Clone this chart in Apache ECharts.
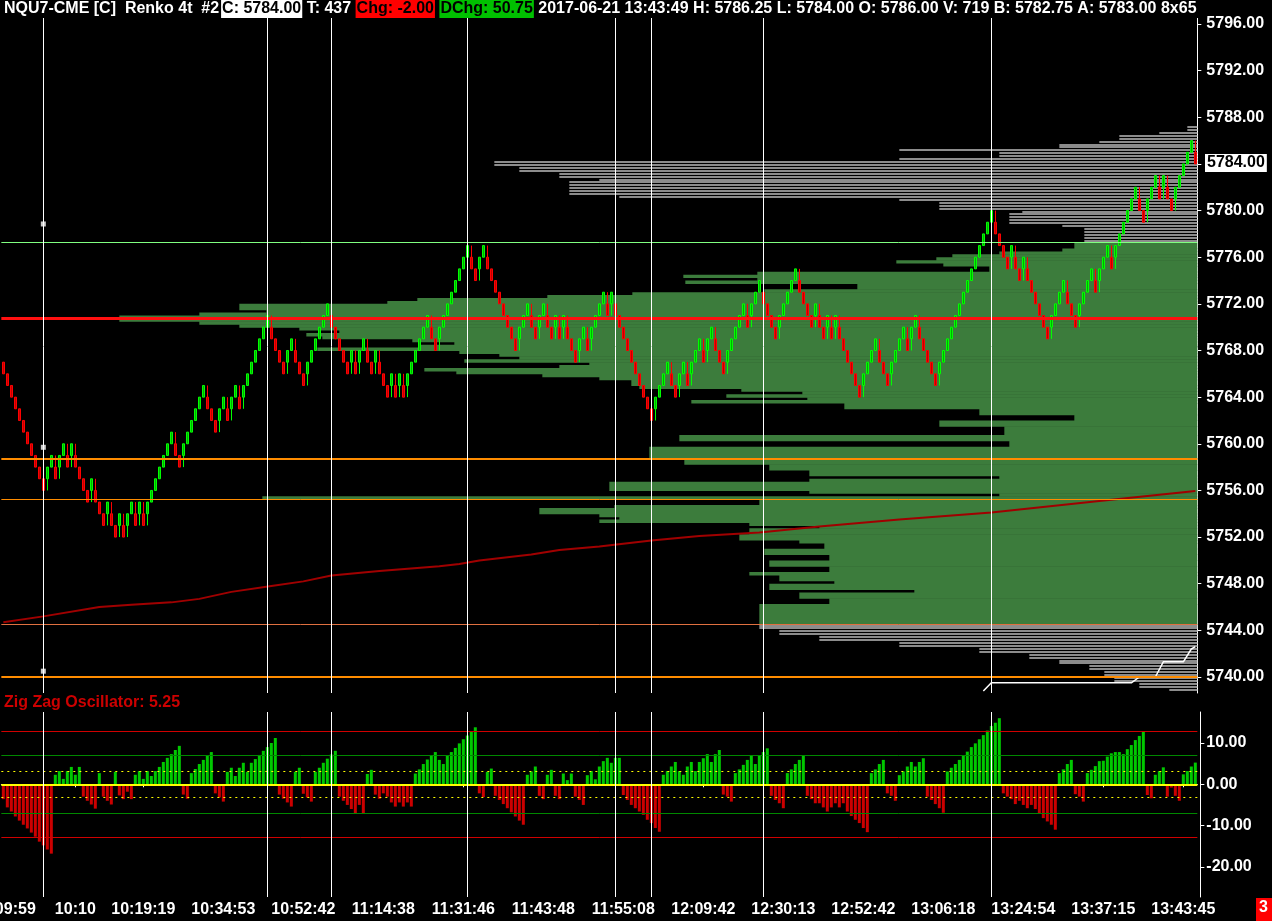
<!DOCTYPE html>
<html><head><meta charset="utf-8">
<script src="https://cdn.jsdelivr.net/npm/echarts@6/dist/echarts.min.js"></script>
<style>html,body{margin:0;padding:0;background:#000;}#c{width:1272px;height:921px;}</style>
</head><body><div id="c"></div>
<script>
// ---------- DATA ----------
// Renko bricks (4 ticks = 1.00 pt): lower edge of each brick, in order
const brickLow = [
5766,5765,5764,5763,5762,5761,5760,5759,5758,5757,5756,
5757,5758,5757,5758,5759,5758,5759,5758,5757,
5756,5755,5756,5755,5754,5753,5754,5753,5752,5753,
5752,5753,5754,5753,5754,5753,5754,5755,5756,5757,
5758,5759,5760,5759,5758,5759,5760,5761,5762,5763,
5764,5763,5762,5761,5762,5763,5762,5763,5764,5763,
5764,5765,5766,5767,5768,5769,5770,5769,5768,5767,
5766,5767,5768,5767,5766,5765,5766,5767,5768,5769,
5770,5771,5770,5769,5768,5767,5766,5767,5766,5767,
5768,5767,5766,5767,5766,5765,5764,5765,5764,5765,
5764,5765,5766,5767,5768,5769,5770,5769,5768,5769,
5770,5771,5772,5773,5774,5775,5776,5775,5774,5775,
5776,5775,5774,5773,5772,5771,5770,5769,5768,5769,
5770,5771,5770,5769,5770,5771,5770,5769,5770,5769,
5770,5769,5768,5767,5768,5769,5768,5769,5770,5771,
5772,5771,5772,5771,5770,5769,5768,5767,5766,5765,
5764,5763,5762,5763,5764,5765,5766,5765,5764,5765,
5766,5765,5766,5767,5768,5767,5768,5769,5768,5767,
5766,5767,5768,5769,5770,5771,5770,5771,5772,5773,
5772,5771,5770,5769,5770,5771,5772,5773,5774,5773,
5772,5771,5770,5771,5770,5769,5770,5769,5770,5769,
5768,5767,5766,5765,5764,5765,5766,5767,5768,5767,
5766,5765,5766,5767,5768,5769,5768,5769,5770,5769,
5768,5767,5766,5765,5766,5767,5768,5769,5770,5771,
5772,5773,5774,5775,5776,5777,5778,5779,5778,5777,
5776,5775,5776,5775,5774,5775,5774,5773,5772,5771,
5770,5769,5770,5771,5772,5773,5772,5771,5770,5771,
5772,5773,5774,5773,5774,5775,5776,5775,5776,5777,
5778,5779,5780,5781,5780,5779,5780,5781,5782,5781,
5782,5781,5780,5781,5782,5783,5784,5785,5784
];
// Zig Zag Oscillator value per brick
const oscValues = [
-3.6,-5.6,-6.6,-7.8,-8.8,-9.8,-10.7,-11.7,-12.7,-13.9,-14.8,-15.8,-16.8,
2.3,3.2,1.3,3.2,4.2,2.3,4.2,
-3.0,-4.0,-4.9,-5.9,
2.7,
-3.0,-4.0,-4.9,
3.0,
-2.7,-3.6,-1.8,-3.6,
2.3,3.2,1.3,3.2,2.0,3.2,4.2,5.4,6.4,7.3,8.3,9.3,
-2.5,-3.5,
2.7,3.7,4.9,5.9,7.0,7.8,
-2.2,-3.2,-4.2,
3.0,4.0,2.0,4.0,5.2,3.0,5.2,6.1,7.1,8.1,9.0,10.0,11.2,
-2.5,-3.5,-4.4,-5.4,
3.0,4.0,
-2.3,-3.2,-4.2,
3.0,4.0,5.2,6.2,7.2,8.1,
-3.0,-4.0,-5.0,-6.0,-7.0,-5.0,-7.0,
2.5,3.5,
-2.5,-3.5,-2.2,-3.0,-4.4,-5.4,-4.4,-5.4,-4.4,-5.4,
2.6,3.6,4.9,6.0,7.0,7.8,5.9,4.9,7.0,7.8,8.8,9.9,10.9,11.8,12.8,13.8,
-2.2,-3.1,
3.0,3.8,
-2.8,-3.8,-4.8,-5.8,-6.8,-7.8,-8.8,-9.8,
2.3,3.1,4.3,
-2.8,-3.6,
2.3,3.5,
-2.8,-3.6,
2.6,1.0,2.6,
-3.0,-3.8,-5.0,
2.2,3.2,1.2,4.3,5.6,6.4,5.2,6.4,6.4,
-2.6,-3.8,-5.0,-5.8,-6.6,-7.4,-8.6,-9.4,-10.6,-11.5,
2.3,3.2,4.3,5.4,3.2,2.3,4.3,5.4,3.2,5.4,6.3,7.3,5.4,7.3,8.3,
-2.5,-3.0,-4.2,
2.7,3.6,4.7,5.9,7.0,4.9,7.0,7.8,8.7,
-2.8,-3.8,-4.6,-5.8,
2.7,3.6,4.9,5.9,7.0,
-2.8,-3.6,-4.6,-4.6,-5.6,-6.6,-5.6,-4.6,-5.6,-4.6,-6.6,-7.7,-8.6,-9.4,-10.6,-11.6,
2.7,3.6,4.9,5.9,
-2.2,-2.8,-4.0,
2.2,3.1,4.3,5.4,4.3,5.4,6.3,
-3.0,-3.8,-4.8,-5.8,-6.9,
3.1,4.0,4.9,5.9,6.9,7.9,9.0,9.9,10.9,11.9,13.0,14.1,14.9,16.0,
-2.2,-3.0,-3.6,-4.8,-4.0,-5.0,-5.8,-5.0,-6.0,-7.0,-8.2,-9.0,-9.8,-11.0,
2.7,3.6,4.9,5.9,
-2.4,-3.0,-4.2,
2.7,3.5,4.4,5.6,5.7,6.7,7.5,7.8,7.8,7.3,8.5,9.5,10.7,11.7,12.7,
-2.6,-3.4,
2.3,3.2,4.1,
-3.0,-0.8,-2.8,-4.0,
2.4,3.2,4.3,5.25
];
// time axis labels (bar number -> text)
const timeLabelBars = [4,19,36,56,76,96,116,136,156,176,196,216,236,256,276,296];
const timeLabels = ['09:59','10:10','10:19:19','10:34:53','10:52:42','11:14:38','11:31:46','11:43:48','11:55:08','12:09:42','12:30:13','12:52:42','13:06:18','13:24:54','13:37:15','13:43:45'];
const priceTicks = [5740,5744,5748,5752,5756,5760,5764,5768,5772,5776,5780,5784,5788,5792,5796];
const oscTicks = [-20,-10,0,10];
// session / marker bars (vertical lines)
const markerBars = [11,67,83,117,154,163,191,248];
const markerDotBars = [11,11,11];
const markerDotVals = [5778.85,5759.7,5740.5];
// VWAP-like line
const vwapBars = [1,11,25,33,43,50,58,68,76,83,95,110,115,120,133,140,150,163,175,190,205,225,248,275,299];
const vwapVals = [5744.7,5745.2,5746.0,5746.2,5746.4,5746.7,5747.3,5747.8,5748.2,5748.7,5749.1,5749.5,5749.7,5750.0,5750.5,5750.9,5751.2,5751.7,5752.1,5752.4,5752.9,5753.5,5754.1,5755.1,5755.95];
// small white indicator line (bottom right)
const wBars = [246,248,283,285,289,291,296,298,299];
const wVals = [5738.8,5739.5,5739.5,5740.0,5740.0,5741.3,5741.3,5742.4,5742.6];
// horizontal level lines
const levelVals = [5777.25,5770.75,5758.75,5755.25,5744.5,5740.0];
const levelColors = ['#80ff80','#ff1010','#ff8c00','#ff8c00','#e07040','#ff8c00'];
const levelWidths = [1,3,2,1,1,2];
// volume profile: segment low, high, relative volume
const vaLow = 5744.5, vaHigh = 5777.25, profRow = 0.25;
const profLo = [5786.75,5786.5,5786.0,5785.75,5785.25,5785.0,5784.5,5784.25,5783.75,5783.25,5782.75,5782.5,5781.25,5781.0,5780.75,5780.0,5779.75,5778.75,5778.5,5777.25,
5776.75,5776.5,5776.25,5776.0,5775.75,5775.5,5775.25,5774.75,5774.5,5774.25,5774.0,5773.75,5773.25,5773.0,5772.75,5772.5,5772.25,5772.0,5771.5,5771.25,5771.0,5770.5,5770.25,5770.0,5769.75,5769.5,5769.25,5769.0,5768.75,5768.5,5768.25,5768.0,5767.75,5767.5,5767.25,5767.0,5766.75,5766.5,5766.25,5766.0,5765.75,5765.5,5765.0,5764.75,5764.5,5764.25,5764.0,5763.75,5763.5,5763.0,5762.5,5762.0,5761.5,5760.75,5760.25,5759.75,5758.75,5758.25,5757.75,5757.25,5757.0,5756.75,5756.0,5755.75,5755.5,5755.25,5754.75,5754.5,5754.0,5753.75,5753.5,5753.25,5753.0,5752.75,5752.25,5751.75,5751.5,5751.0,5750.5,5750.0,5749.5,5749.0,5748.75,5748.25,5748.0,5747.5,5747.25,5746.75,5746.25,5744.5,
5744.0,5743.5,5743.0,5742.5,5742.0,5741.5,5741.0,5740.5,5740.0,5739.5,5739.0,5738.75];
const profHi = [5787.25,5786.75,5786.5,5786.0,5785.75,5785.25,5785.0,5784.5,5784.25,5783.75,5783.25,5782.75,5782.5,5781.25,5781.0,5780.75,5780.0,5779.75,5778.75,5778.5,
5777.25,5776.75,5776.5,5776.25,5776.0,5775.75,5775.5,5775.25,5774.75,5774.5,5774.25,5774.0,5773.75,5773.25,5773.0,5772.75,5772.5,5772.25,5772.0,5771.5,5771.25,5771.0,5770.5,5770.25,5770.0,5769.75,5769.5,5769.25,5769.0,5768.75,5768.5,5768.25,5768.0,5767.75,5767.5,5767.25,5767.0,5766.75,5766.5,5766.25,5766.0,5765.75,5765.5,5765.0,5764.75,5764.5,5764.25,5764.0,5763.75,5763.5,5763.0,5762.5,5762.0,5761.5,5760.75,5760.25,5759.75,5758.75,5758.25,5757.75,5757.25,5757.0,5756.75,5756.0,5755.75,5755.5,5755.25,5754.75,5754.5,5754.0,5753.75,5753.5,5753.25,5753.0,5752.75,5752.25,5751.75,5751.5,5751.0,5750.5,5750.0,5749.5,5749.0,5748.75,5748.25,5748.0,5747.5,5747.25,5746.75,5746.25,
5744.5,5744.0,5743.5,5743.0,5742.5,5742.0,5741.5,5741.0,5740.5,5740.0,5739.5,5739.0];
const profVol = [10,38,78,98,138,298,198,298,703,678,638,598,628,578,298,258,175,188,135,113,
123,135,198,245,261,301,254,208,440,514,440,512,340,433,565,650,780,810,958,931,998,1078,998,958,898,858,891,875,785,743,778,880,738,698,678,733,608,638,773,741,655,598,566,558,456,395,471,390,506,353,218,123,258,193,518,188,548,513,428,388,198,388,588,388,198,935,438,583,658,598,578,598,448,378,448,458,398,373,433,368,428,368,448,418,363,428,283,398,368,438,
438,418,378,298,218,168,138,108,93,83,58,28];

// ---------- BUILD ----------
const N = brickLow.length;
const cats = brickLow.map((_, i) => String(i + 1));
const candle = brickLow.map((L, i) => {
  const prev = i > 0 ? brickLow[i - 1] : L + 1;
  const up = L > prev;
  const prevUp = i > 1 ? brickLow[i - 1] > brickLow[i - 2] : false;
  const reversal = i > 0 && up !== prevUp;
  const open = up ? L : L + 1, close = up ? L + 1 : L;
  let lo = L, hi = L + 1;
  if (reversal) { if (up) lo = L - 1; else hi = L + 2; }
  return [open, close, lo, hi];
});
const oscData = oscValues.map(v => ({ value: v, itemStyle: { color: v >= 0 ? '#00c800' : '#cc0000' } }));
const profData = profLo.map((lo, i) => [lo, profHi[i], profVol[i]]);
const labelMap = {}; timeLabelBars.forEach((b, i) => labelMap[b - 1] = timeLabels[i]);

const FONT = '"Liberation Sans", Arial, sans-serif';
const GL = 1.33, GW = 1196;
const chart = echarts.init(document.getElementById('c'), null, { renderer: 'canvas' });

const hLines = levelVals.map((v, i) => ({ yAxis: v, lineStyle: { color: levelColors[i], width: levelWidths[i], type: 'solid' } }));
const vLines = markerBars.map(b => ({ xAxis: String(b), lineStyle: { color: '#ffffff', width: 1, type: 'solid' } }));

const option = {
  backgroundColor: '#000',
  animation: false,
  grid: [
    { left: GL, top: 0, width: GW, height: 693, containLabel: false, outerBoundsMode: 'none' },
    { left: GL, top: 712, width: GW, height: 185, containLabel: false, outerBoundsMode: 'none' }
  ],
  xAxis: [
    { type: 'category', gridIndex: 0, data: cats, boundaryGap: true, show: false },
    { type: 'value', gridIndex: 0, min: 0, max: GW, inverse: true, show: false },
    { type: 'category', gridIndex: 1, data: cats, boundaryGap: true,
      axisLine: { show: true, lineStyle: { color: '#ffffff', width: 1 } },
      axisTick: { show: true, alignWithLabel: true, length: 3, lineStyle: { color: '#fff' }, interval: (idx) => labelMap[idx] !== undefined },
      axisLabel: { show: true, interval: (idx) => labelMap[idx] !== undefined, formatter: (v, idx) => labelMap[idx] || '',
        color: '#ffffff', fontFamily: FONT, fontWeight: 'bold', fontSize: 16, margin: 5, hideOverlap: false },
      splitLine: { show: false } }
  ],
  yAxis: [
    { type: 'value', gridIndex: 0, position: 'right', min: 5738.628, max: 5798.058, offset: 3,
      axisLine: { show: true, lineStyle: { color: '#ffffff', width: 1 } },
      axisTick: { show: true, length: 4, customValues: priceTicks, lineStyle: { color: '#fff' } },
      axisLabel: { customValues: priceTicks, formatter: v => v.toFixed(2), color: '#ffffff', fontFamily: FONT, fontWeight: 'bold', fontSize: 16, margin: 6 },
      splitLine: { show: false } },
    { type: 'value', gridIndex: 1, position: 'right', min: -27.3, max: 17.5, offset: 3,
      axisLine: { show: true, lineStyle: { color: '#ffffff', width: 1 } },
      axisTick: { show: true, length: 4, customValues: oscTicks, lineStyle: { color: '#fff' } },
      axisLabel: { customValues: oscTicks, formatter: v => v.toFixed(2), color: '#ffffff', fontFamily: FONT, fontWeight: 'bold', fontSize: 16, margin: 6 },
      splitLine: { show: false } }
  ],
  series: [
    { type: 'custom', name: 'profile', xAxisIndex: 1, yAxisIndex: 0, z: 1, silent: true,
      encode: { x: 2, y: [0, 1] }, data: profData, clip: true,
      renderItem: (params, api) => {
        const lo = api.value(0), hi = api.value(1), vol = api.value(2);
        const right = api.coord([0, lo])[0];
        const left = api.coord([vol, lo])[0];
        const inVA = lo >= vaLow - 1e-9 && hi <= vaHigh + 1e-9;
        if (inVA) {
          const yT = api.coord([0, hi])[1], yB = api.coord([0, lo])[1];
          return { type: 'rect', shape: { x: left, y: yT, width: right - left, height: yB - yT + 0.5 }, style: { fill: '#3c7c3c' } };
        }
        const children = [];
        for (let p = lo; p < hi - 1e-9; p += profRow) {
          const yT = api.coord([0, p + profRow])[1], yB = api.coord([0, p])[1];
          children.push({ type: 'rect', shape: { x: left, y: Math.round(yT), width: right - left, height: Math.max(1, Math.round(yB - yT) - 1) }, style: { fill: '#8c8c8c' } });
        }
        return { type: 'group', children };
      } },
    { type: 'line', name: 'levels', xAxisIndex: 0, yAxisIndex: 0, data: [], z: 2, silent: true,
      markLine: { silent: true, symbol: ['none', 'none'], label: { show: false }, animation: false, data: hLines } },
    { type: 'line', name: 'vwap', xAxisIndex: 0, yAxisIndex: 0, z: 3, silent: true, symbol: 'none',
      data: vwapBars.map((b, i) => [String(b), vwapVals[i]]), lineStyle: { color: '#a00000', width: 2 } },
    { type: 'line', name: 'ind', xAxisIndex: 0, yAxisIndex: 0, z: 3, silent: true, symbol: 'none',
      data: wBars.map((b, i) => [String(b), wVals[i]]), lineStyle: { color: '#ffffff', width: 1.5 } },
    { type: 'candlestick', name: 'renko', xAxisIndex: 0, yAxisIndex: 0, z: 4, data: candle, barWidth: 3,
      itemStyle: { color: '#00b000', color0: '#c00000', borderColor: '#00ff00', borderColor0: '#ff0000', borderWidth: 1 } },
    { type: 'line', name: 'markers', xAxisIndex: 0, yAxisIndex: 0, data: [], z: 5, silent: true,
      markLine: { silent: true, symbol: ['none', 'none'], label: { show: false }, animation: false, data: vLines } },
    { type: 'scatter', name: 'dots', xAxisIndex: 0, yAxisIndex: 0, z: 6, silent: true, symbol: 'rect', symbolSize: 5,
      itemStyle: { color: '#ffffff' }, data: markerDotBars.map((b, i) => [String(b), markerDotVals[i]]) },
    { type: 'bar', name: 'osc', xAxisIndex: 2, yAxisIndex: 1, data: oscData, barWidth: 3, z: 3,
      markLine: { silent: true, symbol: ['none', 'none'], label: { show: false }, animation: false,
        data: [
          { yAxis: 12.75, lineStyle: { color: '#d00000', width: 1, type: 'solid' } },
          { yAxis: -12.75, lineStyle: { color: '#d00000', width: 1, type: 'solid' } },
          { yAxis: 7, lineStyle: { color: '#008800', width: 1, type: 'solid' } },
          { yAxis: -7, lineStyle: { color: '#008800', width: 1, type: 'solid' } },
          { yAxis: 3.25, lineStyle: { color: '#ffff00', width: 1, type: [2, 4] } },
          { yAxis: -3.25, lineStyle: { color: '#ffff00', width: 1, type: [2, 4] } },
          { yAxis: 0, lineStyle: { color: '#ffff00', width: 2, type: 'solid' } }
        ].concat(markerBars.map(b => ({ xAxis: String(b), lineStyle: { color: '#ffffff', width: 1, type: 'solid' } }))) } }
  ],
  graphic: [
    { type: 'rect', left: 0, top: 0, z: 100, shape: { width: 1199, height: 18 }, style: { fill: '#000' } },
    { type: 'text', left: 4, top: 0, z: 101, style: {
        text: '{n|NQU7-CME [C]  Renko 4t  #2}{s| }{w|C: 5784.00}{n| T: 437 }{r|Chg: -2.00}{n| }{g|DChg: 50.75}{n| 2017-06-21 13:43:49 H: 5786.25 L: 5784.00 O: 5786.00 V: 719 B: 5782.75 A: 5783.00 8x65}',
        font: 'bold 16px ' + FONT, fill: '#fff',
        rich: {
          n: { fill: '#ffffff', font: 'bold 16px ' + FONT, lineHeight: 18, height: 18 },
          s: { fill: '#ffffff', font: 'bold 7px ' + FONT, lineHeight: 18, height: 18 },
          w: { fill: '#000000', backgroundColor: '#ffffff', font: 'bold 16px ' + FONT, lineHeight: 18, height: 18, padding: [0, 1] },
          r: { fill: '#000000', backgroundColor: '#ff0000', font: 'bold 16px ' + FONT, lineHeight: 18, height: 18, padding: [0, 1] },
          g: { fill: '#000000', backgroundColor: '#00c000', font: 'bold 16px ' + FONT, lineHeight: 18, height: 18, padding: [0, 1] }
        } } },
    { type: 'text', left: 4, top: 695, z: 101, style: { text: 'Zig Zag Oscillator: 5.25', font: 'bold 16px ' + FONT, fill: '#cc0000' } },
    { type: 'rect', left: 1256, top: 898, z: 100, shape: { width: 16, height: 23 }, style: { fill: '#ff0000' } },
    { type: 'text', left: 1259, top: 900, z: 101, style: { text: '3', font: 'bold 16px ' + FONT, fill: '#ffffff' } }
  ]
};
chart.setOption(option);
const lastClose = candle[N - 1][1];
const yLast = chart.convertToPixel({ yAxisIndex: 0 }, lastClose);
chart.setOption({ graphic: option.graphic.concat([
  { type: 'text', left: 1205, top: yLast - 10, z: 102, style: { text: lastClose.toFixed(2), font: 'bold 16px ' + FONT, fill: '#000', backgroundColor: '#fff', padding: [1, 2, 1, 2] } }
]) });
</script>
</body></html>
